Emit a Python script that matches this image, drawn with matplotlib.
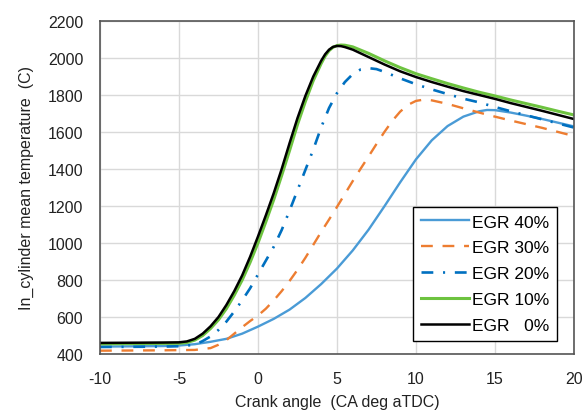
import matplotlib
matplotlib.use("Agg")
import matplotlib.pyplot as plt

plt.rcParams['font.family'] = ['Liberation Sans', 'DejaVu Sans']
plt.rcParams['lines.scale_dashes'] = False
plt.rcParams['axes.unicode_minus'] = False

# Crank angle (CA deg aTDC) and temperatures (C)
x_egr40 = [-10, -6, -5, -4, -3, -2, -1, 0, 1, 2, 3, 4, 5, 6, 7, 8, 9, 10, 11, 12, 13, 14, 14.5, 15, 16, 17, 18, 19, 20]
t_egr40 = [440, 443, 446, 453, 466, 482, 510, 548, 590, 640, 703, 778, 862, 960, 1072, 1198, 1328, 1452, 1555, 1632, 1683, 1712, 1719, 1718, 1705, 1688, 1670, 1650, 1630]

x_egr30 = [-10, -6, -4, -3, -2.5, -2, -1.5, -1, -0.5, 0, 0.5, 1, 1.5, 2, 2.5, 3, 3.5, 4, 4.5, 5, 5.5, 6, 6.5, 7, 7.5, 8, 8.5, 9, 9.5, 10, 10.5, 11, 12, 13, 14, 15, 16, 17, 18, 19, 20]
t_egr30 = [418, 420, 422, 432, 450, 475, 510, 545, 578, 608, 645, 690, 740, 795, 855, 920, 990, 1060, 1127, 1195, 1265, 1335, 1402, 1468, 1535, 1600, 1660, 1710, 1747, 1768, 1775, 1771, 1752, 1728, 1705, 1683, 1662, 1642, 1622, 1600, 1578]

x_egr20 = [-10, -6, -5, -4, -3.5, -3, -2.5, -2, -1.5, -1, -0.5, 0, 0.5, 1, 1.5, 2, 2.5, 3, 3.5, 4, 4.5, 5, 5.5, 6, 6.5, 7, 7.5, 8, 9, 10, 11, 12, 13, 14, 15, 16, 17, 18, 19, 20]
t_egr20 = [438, 440, 442, 450, 470, 495, 530, 575, 630, 690, 755, 830, 905, 980, 1070, 1175, 1285, 1395, 1505, 1625, 1730, 1810, 1870, 1913, 1938, 1945, 1940, 1925, 1890, 1858, 1830, 1805, 1780, 1760, 1735, 1712, 1690, 1668, 1646, 1624]

x_egr10 = [-10, -5, -4.5, -4, -3.5, -3, -2.5, -2, -1.5, -1, -0.5, 0, 0.5, 1, 1.5, 2, 2.5, 3, 3.5, 4, 4.25, 4.5, 4.75, 5, 5.25, 5.5, 6, 7, 8, 9, 10, 11, 12, 13, 14, 15, 16, 17, 18, 19, 20]
t_egr10 = [455, 458, 462, 475, 500, 538, 585, 645, 718, 800, 895, 1000, 1115, 1235, 1365, 1500, 1640, 1765, 1878, 1970, 2010, 2040, 2058, 2067, 2070, 2069, 2060, 2025, 1985, 1948, 1915, 1888, 1862, 1838, 1815, 1795, 1773, 1753, 1733, 1712, 1692]

x_egr0 = [-10, -8, -6, -5, -4.5, -4, -3.5, -3, -2.5, -2, -1.5, -1, -0.5, 0, 0.5, 1, 1.5, 2, 2.5, 3, 3.5, 4, 4.25, 4.5, 4.75, 5, 5.25, 5.5, 6, 7, 8, 9, 10, 11, 12, 13, 14, 15, 16, 17, 18, 19, 20]
t_egr0 = [460, 461, 462, 463, 468, 482, 510, 550, 600, 665, 740, 825, 925, 1035, 1150, 1270, 1400, 1540, 1675, 1795, 1900, 1985, 2020, 2045, 2060, 2065, 2064, 2059, 2045, 2005, 1965, 1928, 1897, 1870, 1845, 1821, 1800, 1779, 1756, 1735, 1714, 1692, 1670]

labels = ["EGR 40%", "EGR 30%", "EGR 20%", "EGR 10%", "EGR   0%"]
x_ticks = [-10, -5, 0, 5, 10, 15, 20]
y_ticks = [400, 600, 800, 1000, 1200, 1400, 1600, 1800, 2000, 2200]

fig = plt.figure(figsize=(5.83, 4.14), dpi=100)
ax = fig.add_axes([0.1715, 0.1425, 0.813, 0.8044])

ax.plot(x_egr40, t_egr40, color='#4A9BD6', lw=1.7, label=labels[0])
ax.plot(x_egr30, t_egr30, color='#ED7D31', lw=1.7, dashes=(8.5, 7), label=labels[1])
ax.plot(x_egr20, t_egr20, color='#0070C0', lw=1.9, dashes=(8.5, 7, 1.5, 7), label=labels[2])
ax.plot(x_egr10, t_egr10, color='#6DC33F', lw=2.2, label=labels[3])
ax.plot(x_egr0, t_egr0, color='#000000', lw=1.8, label=labels[4])

ax.set_xlim(-10, 20)
ax.set_ylim(400, 2200)
ax.set_xticks(x_ticks)
ax.set_yticks(y_ticks)
ax.tick_params(axis='both', length=0, labelsize=11.5, colors='#222222')
ax.tick_params(axis='x', pad=12)
ax.tick_params(axis='y', pad=12)
ax.grid(True, color='#D9D9D9', lw=1.0)
ax.set_axisbelow(True)
for s in ax.spines.values():
    s.set_color('#555555')
    s.set_linewidth(1.2)

ax.set_xlabel("Crank angle  (CA deg aTDC)", fontsize=11.5, color='#222222', labelpad=6)
ax.set_ylabel("In_cylinder mean temperature  (C)", fontsize=11.5, color='#222222', labelpad=10)

leg = ax.legend(loc='lower right', bbox_to_anchor=(0.964, 0.039), fontsize=12.5,
                frameon=True, fancybox=False, edgecolor='#000000', framealpha=1,
                handlelength=2.8, handletextpad=0.15, labelspacing=0.62,
                borderpad=0.45, borderaxespad=0)
leg.get_frame().set_linewidth(1.0)

fig.savefig("out.png", dpi=100)
